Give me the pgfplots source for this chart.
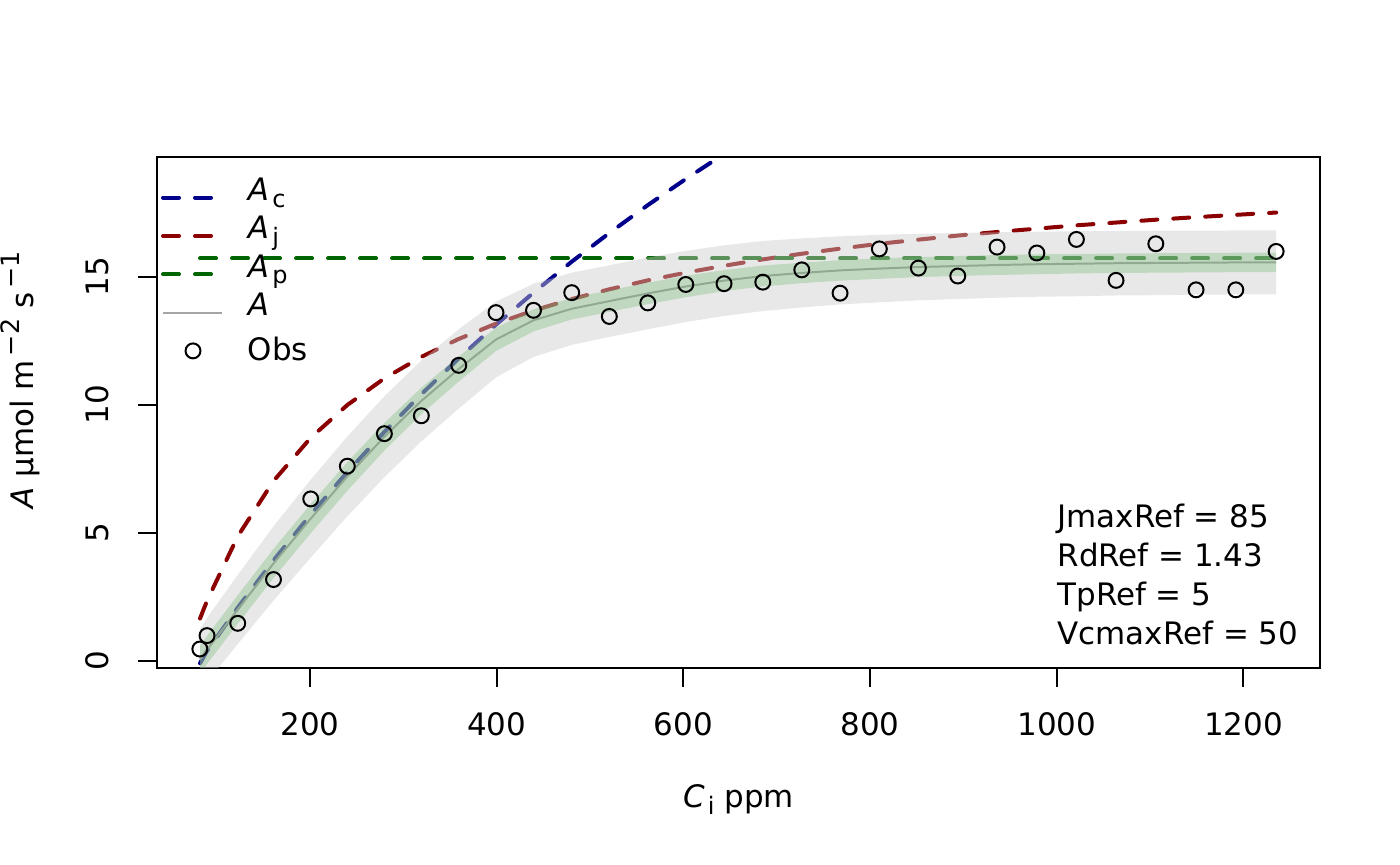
\documentclass[border=0pt]{standalone}
\usepackage{fontspec}
\setmainfont{DejaVu Sans}
\usepackage{pgfplots}
\pgfplotsset{compat=1.18}
\usepackage{pgfplotstable}

\definecolor{acol}{RGB}{0,0,139}
\definecolor{jcol}{RGB}{139,0,0}
\definecolor{pcol}{RGB}{0,100,0}
\definecolor{bandgrey}{RGB}{203,203,203}
\definecolor{bandgreen}{RGB}{102,178,102}
\definecolor{alinecol}{RGB}{165,165,165}

\newcommand{\subs}[1]{\hspace{1.2bp}\raisebox{-2.6bp}{\fontsize{9bp}{9bp}\selectfont #1}}
\newcommand{\sups}[1]{\hspace{1.5bp}\raisebox{5.5bp}{\fontsize{9.5bp}{9.5bp}\selectfont #1}}

\pgfplotstableread{
x Ac
82.2 -0.10
89.7 0.38
122.6 2.07
160.9 3.92
200.8 5.71
240.0 7.37
279.7 8.94
319.3 10.41
359.4 11.81
399.3 13.13
439.5 14.38
480.4 15.59
520.7 16.71
561.9 17.80
602.6 18.82
643.6 19.80
685.1 20.74
}\actab

\pgfplotstableread{
x Aj Ap A
82.2 1.65 15.72 0.05
89.7 2.34 15.72 0.42
122.6 4.86 15.72 2.00
160.9 7.02 15.72 3.80
200.8 8.71 15.72 5.55
240.0 9.99 15.72 7.20
279.7 11.03 15.72 8.75
319.3 11.87 15.72 10.15
359.4 12.57 15.72 11.40
399.3 13.17 15.72 12.55
439.5 13.68 15.72 13.30
480.4 14.13 15.72 13.75
520.7 14.51 15.72 14.05
561.9 14.86 15.72 14.35
602.6 15.16 15.72 14.62
643.6 15.43 15.72 14.85
685.1 15.68 15.72 15.03
726.9 15.90 15.72 15.15
767.9 16.10 15.72 15.25
810.0 16.29 15.72 15.32
851.8 16.45 15.72 15.38
894.0 16.61 15.72 15.42
936.1 16.75 15.72 15.46
978.7 16.88 15.72 15.49
1021.1 17.01 15.72 15.51
1063.6 17.12 15.72 15.53
1106.2 17.23 15.72 15.54
1149.3 17.33 15.72 15.55
1191.9 17.42 15.72 15.56
1235.1 17.51 15.72 15.56
}\ajtab

% grey band polygon: upper edge forward, lower edge backward
\pgfplotstableread{
x y
82.2 1.25
89.7 1.67
122.6 3.35
160.9 5.25
200.8 7.07
240.0 8.76
279.7 10.33
319.3 11.73
359.4 12.95
399.3 14.03
439.5 14.73
480.4 15.16
520.7 15.45
561.9 15.75
602.6 16.01
643.6 16.23
685.1 16.40
726.9 16.50
767.9 16.58
810.0 16.64
851.8 16.68
894.0 16.71
936.1 16.74
978.7 16.76
1021.1 16.78
1063.6 16.79
1106.2 16.80
1149.3 16.80
1191.9 16.81
1235.1 16.81
1235.1 14.31
1191.9 14.31
1149.3 14.30
1106.2 14.28
1063.6 14.27
1021.1 14.24
978.7 14.22
936.1 14.18
894.0 14.13
851.8 14.08
810.0 14.00
767.9 13.92
726.9 13.80
685.1 13.66
643.6 13.47
602.6 13.23
561.9 12.95
520.7 12.65
480.4 12.34
439.5 11.87
399.3 11.07
359.4 9.85
319.3 8.57
279.7 7.17
240.0 5.64
200.8 4.03
160.9 2.35
122.6 0.65
89.7 -0.83
82.2 -1.15
}\greyband

% green band polygon
\pgfplotstableread{
x y
82.2 0.60
89.7 0.97
122.6 2.56
160.9 4.37
200.8 6.12
240.0 7.76
279.7 9.29
319.3 10.67
359.4 11.89
399.3 13.00
439.5 13.73
480.4 14.17
520.7 14.47
561.9 14.77
602.6 15.04
643.6 15.26
685.1 15.44
726.9 15.55
767.9 15.65
810.0 15.72
851.8 15.77
894.0 15.81
936.1 15.85
978.7 15.88
1021.1 15.89
1063.6 15.91
1106.2 15.92
1149.3 15.93
1191.9 15.94
1235.1 15.94
1235.1 15.18
1191.9 15.18
1149.3 15.17
1106.2 15.16
1063.6 15.15
1021.1 15.13
978.7 15.10
936.1 15.07
894.0 15.03
851.8 14.99
810.0 14.92
767.9 14.85
726.9 14.75
685.1 14.62
643.6 14.44
602.6 14.20
561.9 13.93
520.7 13.63
480.4 13.33
439.5 12.87
399.3 12.10
359.4 10.91
319.3 9.63
279.7 8.21
240.0 6.64
200.8 4.98
160.9 3.23
122.6 1.44
89.7 -0.13
82.2 -0.50
}\greenband

\pgfplotstableread{
x y
82.0 0.455
89.7 0.98
122.6 1.46
160.9 3.17
200.8 6.32
240.0 7.60
279.7 8.87
319.3 9.57
359.4 11.54
399.3 13.60
439.5 13.69
480.4 14.38
520.7 13.45
561.9 13.98
602.6 14.70
643.6 14.73
685.1 14.79
726.9 15.27
767.9 14.36
810.0 16.09
851.8 15.34
894.0 15.03
936.1 16.16
978.7 15.93
1021.1 16.46
1063.6 14.86
1106.2 16.29
1149.3 14.49
1191.9 14.49
1235.1 15.99
}\obstab

\begin{document}
\begin{tikzpicture}
\begin{axis}[
  scale only axis, width=436.1bp, height=191.6bp,
  xmin=36.1, xmax=1282.1, ymin=-0.285, ymax=19.68,
  xtick={200,400,600,800,1000,1200}, ytick={0,5,10,15},
  xtick pos=bottom, ytick pos=left,
  tick align=outside, major tick length=7.1bp,
  tick style={black, line width=0.75bp},
  axis line style={line width=0.75bp},
  /pgf/number format/assume math mode=true,
  /pgf/number format/1000 sep={},
  scaled ticks=false,
  ticklabel style={font=\fontsize{11.6bp}{13bp}\selectfont},
  xticklabel style={anchor=base, yshift=-18.2bp},
  yticklabel style={xshift=-11.1bp, rotate=90, anchor=base},
  xlabel={\textit{C}\subs{i} ppm},
  ylabel={\textit{A} µmol m\sups{−2} s\sups{−1}},
  label style={font=\fontsize{11.6bp}{13bp}\selectfont},
  xlabel style={at={(axis description cs:0.5,-0.274)}, anchor=base},
  ylabel style={at={(axis description cs:-0.106,0.5638)}, anchor=base, inner sep=0pt},
  legend style={at={(0,1)}, anchor=north west, xshift=1.5bp, yshift=-6.8bp,
    draw=none, fill=none, inner sep=0pt, outer sep=0pt, row sep=0pt, column sep=9.1bp,
    font=\fontsize{11.6bp}{14.4bp}\selectfont,
    nodes={inner sep=0pt, text height=9.4bp, text depth=5bp}},
  legend cell align=left,
  legend image code/.code={\draw[#1] (0bp,-1.2bp) -- (22bp,-1.2bp);},
]
\addlegendimage{acol, line width=1.5bp, dash pattern=on 6bp off 6bp, line cap=round}
\addlegendentry{\textit{A}\subs{c}}
\addlegendimage{jcol, line width=1.5bp, dash pattern=on 6bp off 6bp, line cap=round}
\addlegendentry{\textit{A}\subs{j}}
\addlegendimage{pcol, line width=1.5bp, dash pattern=on 6bp off 6bp, line cap=round}
\addlegendentry{\textit{A}\subs{p}}
\addlegendimage{alinecol, line width=0.75bp}
\addlegendentry{\textit{A}}
\addlegendimage{legend image code/.code={\draw[black, line width=0.75bp] (11.25bp,-1.1bp) circle[radius=2.8bp];}}
\addlegendentry{\raisebox{-2.5bp}{Obs}}

\addplot[forget plot, acol, line width=1.5bp, dash pattern=on 6bp off 6bp, line cap=round] table[x=x, y=Ac] {\actab};
\addplot[forget plot, jcol, line width=1.5bp, dash pattern=on 6bp off 6bp, line cap=round] table[x=x, y=Aj] {\ajtab};
\addplot[forget plot, pcol, line width=1.5bp, dash pattern=on 6bp off 6bp, line cap=round] table[x=x, y=Ap] {\ajtab};
\addplot[forget plot, only marks, mark=o, mark size=2.8bp, black, mark options={line width=0.75bp}] table[x=x, y=y] {\obstab};

\addplot[forget plot, fill=bandgrey, fill opacity=0.44, draw=none] table[x=x, y=y] {\greyband} -- cycle;
\addplot[forget plot, alinecol, line width=0.75bp] table[x=x, y=A] {\ajtab};
\addplot[forget plot, fill=bandgreen, fill opacity=0.3, draw=none] table[x=x, y=y] {\greenband} -- cycle;

\node[anchor=north west, align=left, inner sep=0pt, font=\fontsize{11.6bp}{14.6bp}\selectfont]
  at (rel axis cs:0.7739,0.3225) {JmaxRef = 85\\RdRef = 1.43\\TpRef = 5\\VcmaxRef = 50};
\end{axis}
\pgfresetboundingbox
\path[use as bounding box] ([shift={(-58.875bp,-73.875bp)}]current axis.south west) rectangle ([shift={(30bp,58.875bp)}]current axis.north east);
\end{tikzpicture}
\end{document}
